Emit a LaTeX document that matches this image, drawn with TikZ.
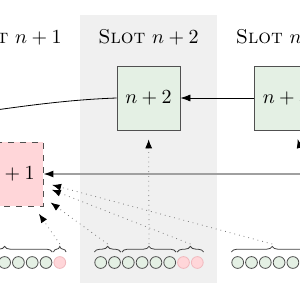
\documentclass[tikz,border=0pt]{standalone}
\usetikzlibrary{arrows.meta,decorations.pathreplacing}
\definecolor{bggray}{RGB}{240,240,240}
\definecolor{blkgreen}{RGB}{228,240,228}
\definecolor{blkred}{RGB}{255,214,217}
\definecolor{rededge}{RGB}{240,185,190}
\definecolor{edgegray}{RGB}{80,80,80}
\definecolor{votegray}{RGB}{120,120,120}
\definecolor{chaingray}{RGB}{160,160,160}
\begin{document}
\begin{tikzpicture}[x=0.5pt,y=-0.5pt,
  blockbox/.style={draw=edgegray, fill=blkgreen, minimum width=31.5pt, minimum height=32pt, inner sep=0pt},
  orphanbox/.style={blockbox, fill=blkred, dashed},
  attg/.style={circle, draw=edgegray, fill=blkgreen, minimum size=5.9pt, inner sep=0pt},
  attr/.style={circle, draw=rededge, fill=blkred, minimum size=5.9pt, inner sep=0pt},
  brc/.style={decorate, decoration={brace, amplitude=2.8pt}, draw=black!75},
  vote/.style={dotted, draw=votegray, -{Latex[length=4.5pt,width=3.5pt,color=black]}, shorten >=4.5pt},
  link/.style={draw=black, -{Latex[length=5pt,width=3.5pt]}},
  glink/.style={draw=chaingray, line width=0.7pt, -{Latex[length=5pt,width=3.5pt,color=black]}},
  slotlabel/.style={inner sep=0pt}
]
\useasboundingbox (0,0) rectangle (300,300);
\clip (0,0) rectangle (300,300);
% slot n+2 background
\fill[bggray] (80,15) rectangle (217,283);
% slot labels
\node[slotlabel] (s1) at (11.5,37) {\textsc{Slot} $n+1$};
\node[slotlabel] (s2) at (148.5,37) {\textsc{Slot} $n+2$};
\node[slotlabel] (s3) at (286,37) {\textsc{Slot} $n+3$};
% blocks
\node[orphanbox] (n1) at (11.5,174) {$n+1$};
\node[blockbox] (n2) at (148.5,98) {$n+2$};
\node[blockbox] (n3) at (286,98) {$n+3$};
% helper coordinates
\coordinate (by) at (0,252);
\coordinate (far) at (340,174);
\coordinate (nprev) at (-60,118);
% attestation circles
\foreach \i in {0,...,6} \node[attg] (a1-\i) at ({11.5+(\i-3.5)*13.8},262.5) {};
\node[attr] (a1-7) at ({11.5+(7-3.5)*13.8},262.5) {};
\foreach \i in {0,...,5} \node[attg] (a2-\i) at ({149+(\i-3.5)*13.8},262.5) {};
\foreach \i in {6,7} \node[attr] (a2-\i) at ({149+(\i-3.5)*13.8},262.5) {};
\foreach \i in {0,...,7} \node[attg] (a3-\i) at ({286+(\i-3.5)*13.8},262.5) {};
% braces
\draw[brc] (a1-0.west |- by) -- (a1-6.east |- by);
\draw[brc] (a1-7.west |- by) -- (a1-7.east |- by);
\path (a1-7.west |- by) -- (a1-7.east |- by) coordinate[midway] (m1b);
\draw[brc] (a2-0.west |- by) -- (a2-1.east |- by);
\path (a2-0.west |- by) -- (a2-1.east |- by) coordinate[midway] (m2a);
\draw[brc] (a2-2.west |- by) -- (a2-5.east |- by);
\path (a2-2.west |- by) -- (a2-5.east |- by) coordinate[midway] (m2b);
\draw[brc] (a2-6.west |- by) -- (a2-7.east |- by);
\path (a2-6.west |- by) -- (a2-7.east |- by) coordinate[midway] (m2c);
\draw[brc] (a3-0.west |- by) -- (a3-5.east |- by);
\path (a3-0.west |- by) -- (a3-5.east |- by) coordinate[midway] (m3a);
\draw[brc] (a3-6.west |- by) -- (a3-7.east |- by);
\path (a3-6.west |- by) -- (a3-7.east |- by) coordinate[midway] (m3b);
% chain links
\draw (n2.west) .. controls (60,100) and (10,108) .. (nprev);
\draw[link] (n3) -- (n2);
\draw[glink] (far) -- (n1);
% votes
\draw[vote] ([yshift=4pt]m1b) -- (n1);
\draw[vote] ([yshift=4pt]m2a) -- (n1);
\draw[vote] ([yshift=4pt]m2b) -- (n2);
\draw[vote] ([yshift=4pt]m2c) -- (n1);
\draw[vote] ([yshift=4pt]m3a) -- (n1);
\draw[vote] ([yshift=4pt]m3b) -- (n3);
\end{tikzpicture}
\end{document}
